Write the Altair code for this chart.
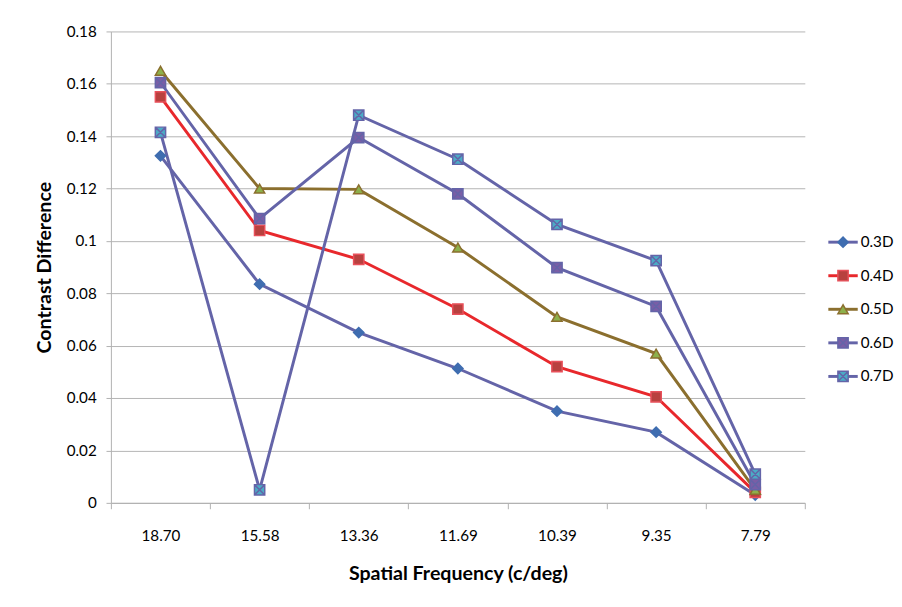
import altair as alt
import pandas as pd

freqs = ["18.70", "15.58", "13.36", "11.69", "10.39", "9.35", "7.79"]
series = ["0.3D", "0.4D", "0.5D", "0.6D", "0.7D"]
v03 = [0.1325, 0.0835, 0.065, 0.0513, 0.035, 0.027, 0.003]
v04 = [0.155, 0.104, 0.093, 0.074, 0.052, 0.0405, 0.004]
v05 = [0.165, 0.120, 0.1197, 0.0975, 0.071, 0.057, 0.005]
v06 = [0.1605, 0.1085, 0.1395, 0.118, 0.0898, 0.075, 0.007]
v07 = [0.1415, 0.005, 0.148, 0.1312, 0.1063, 0.0925, 0.011]

line_colors = ["#6464A8", "#E8282C", "#8B6F2E", "#6464A8", "#6464A8"]
fill_colors = ["#3F6DB0", "#B8413F", "#8DB04B", "#7A5EA6", "#4BACC6"]
stroke_colors = ["#3F6DB0", "#E8505A", "#8B6F2E", "#6464A8", "#6464A8"]
sq_x = "M-1,-1H1V1H-1Z M-1,-1L1,1 M1,-1L-1,1"
shapes = ["diamond", "square", "triangle-up", sq_x, sq_x]

rows = []
for s, vals in zip(series, [v03, v04, v05, v06, v07]):
    for f, v in zip(freqs, vals):
        rows.append({"series": s, "freq": f, "value": v})
df = pd.DataFrame(rows)

FONT = "Lato"
x_enc = alt.X("freq:N", sort=freqs, title="Spatial Frequency (c/deg)",
              scale=alt.Scale(paddingInner=0, paddingOuter=0),
              axis=alt.Axis(labelAngle=0, tickBand="extent", grid=False,
                            domainColor="#B0B0B0", tickColor="#B0B0B0", tickSize=6,
                            labelFontSize=15.5, labelPadding=20, labelColor="#000",
                            titleFontSize=20, titleFontWeight="bold", titlePadding=21,
                            titleColor="#000"))
y_enc = alt.Y("value:Q", title="Contrast Difference",
              scale=alt.Scale(domain=[0, 0.18], nice=False),
              axis=alt.Axis(values=[0, 0.02, 0.04, 0.06, 0.08, 0.1, 0.12, 0.14, 0.16, 0.18],
                            labelExpr="format(datum.value, '~g')",
                            gridColor="#B3B3B3", domainColor="#B0B0B0", tickColor="#B0B0B0",
                            tickSize=5, labelFontSize=15.5, labelPadding=10, labelColor="#000",
                            titleFontSize=20, titleFontWeight="bold", titlePadding=12,
                            titleColor="#000"))

line_scale = alt.Scale(domain=series, range=line_colors)
fill_scale = alt.Scale(domain=series, range=fill_colors)
stroke_scale = alt.Scale(domain=series, range=stroke_colors)
shape_scale = alt.Scale(domain=series, range=shapes)

lines = alt.Chart(df).mark_line(strokeWidth=3).encode(
    x=x_enc, y=y_enc,
    color=alt.Color("series:N", scale=line_scale, legend=None),
    detail="series:N",
)
points = alt.Chart(df).mark_point(filled=True, opacity=1, strokeWidth=1.5, size=110).encode(
    x=x_enc, y=y_enc,
    fill=alt.Fill("series:N", scale=fill_scale, legend=None),
    stroke=alt.Stroke("series:N", scale=stroke_scale, legend=None),
    shape=alt.Shape("series:N", scale=shape_scale, legend=None),
)
main = alt.layer(lines, points).properties(width=708, height=481)

ldf = pd.DataFrame({"series": series, "idx": list(range(len(series)))})
ly = alt.Y("idx:Q", scale=alt.Scale(domain=[0, 4], range=[215, 352], nice=False, zero=False),
           axis=None)
leg_line = alt.Chart(ldf).mark_rule(strokeWidth=3).encode(
    y=ly, x=alt.value(0), x2=alt.value(30),
    color=alt.Color("series:N", scale=line_scale, legend=None),
)
leg_pt = alt.Chart(ldf).mark_point(filled=True, opacity=1, strokeWidth=1.5, size=110).encode(
    y=ly, x=alt.value(15),
    fill=alt.Fill("series:N", scale=fill_scale, legend=None),
    stroke=alt.Stroke("series:N", scale=stroke_scale, legend=None),
    shape=alt.Shape("series:N", scale=shape_scale, legend=None),
)
leg_txt = alt.Chart(ldf).mark_text(align="left", baseline="middle", fontSize=15.5, font=FONT,
                                   color="#000").encode(
    y=ly, x=alt.value(33), text="series:N",
)
legend = alt.layer(leg_line, leg_pt, leg_txt).properties(width=50, height=481)

chart = alt.hconcat(main, legend, spacing=21).configure(
    font=FONT, padding={"left": 27, "top": 11, "right": 0, "bottom": 0}
).configure_view(stroke=None).configure_axis(labelFont=FONT, titleFont=FONT)

chart.save("out.html", embed_options={"renderer": "svg", "actions": False})
